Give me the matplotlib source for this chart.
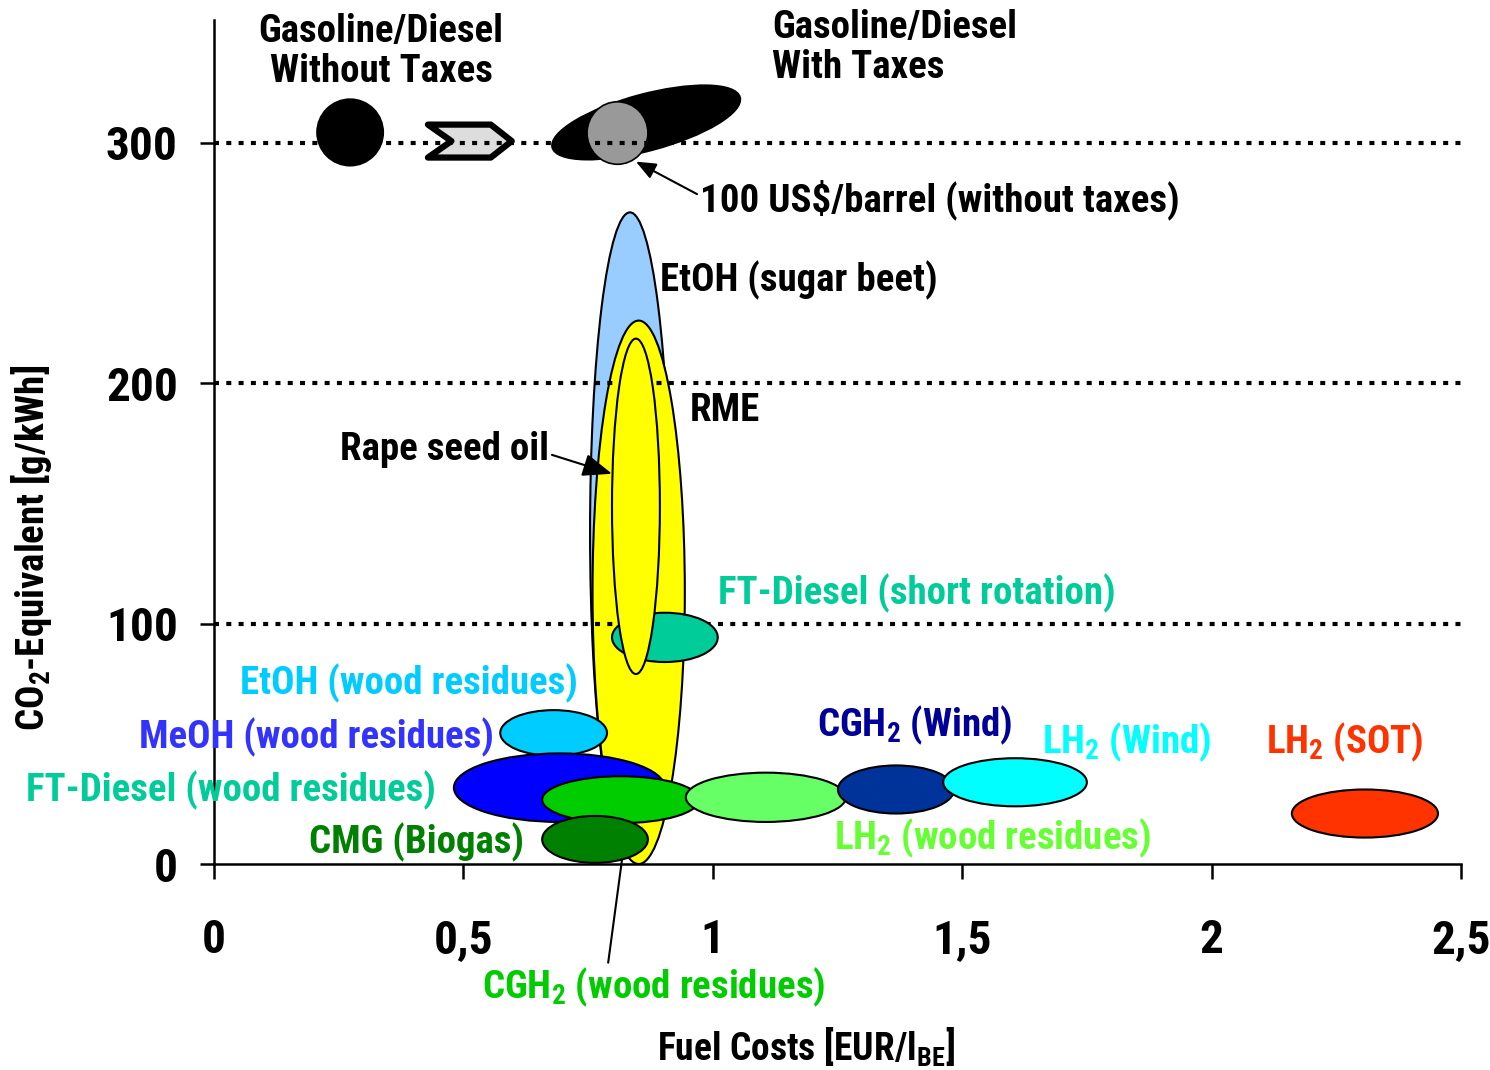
import matplotlib
matplotlib.use("Agg")
import matplotlib.pyplot as plt
from matplotlib import font_manager
from matplotlib.patches import Ellipse, Polygon
from matplotlib.transforms import ScaledTranslation
import numpy as np


def pick_family(candidates):
    for name in candidates:
        try:
            font_manager.findfont(font_manager.FontProperties(family=name, weight="bold"),
                                  fallback_to_default=False)
            return name
        except Exception:
            continue
    return "DejaVu Sans"


FAMILY = pick_family(["Liberation Sans Narrow", "Roboto Condensed", "Open Sans Condensed",
                      "Liberation Sans"])
plt.rcParams["font.family"] = [FAMILY, "DejaVu Sans"]
plt.rcParams["font.weight"] = "bold"
plt.rcParams["mathtext.fontset"] = "custom"
plt.rcParams["mathtext.rm"] = FAMILY + ":bold"
plt.rcParams["mathtext.bf"] = FAMILY + ":bold"
plt.rcParams["mathtext.it"] = FAMILY + ":bold"
plt.rcParams["mathtext.default"] = "bf"

# ---- data: cost range [EUR/l BE] and CO2-equivalent range [g/kWh] ----
fuels = ["EtOH (sugar beet)", "RME", "FT-Diesel (short rotation)", "Rape seed oil",
         "EtOH (wood residues)", "MeOH (wood residues)", "CGH2 (wood residues)",
         "LH2 (wood residues)", "CGH2 (Wind)", "LH2 (Wind)", "CMG (Biogas)", "LH2 (SOT)"]
cost_low = [0.754, 0.759, 0.798, 0.798, 0.574, 0.481, 0.658, 0.946, 1.251, 1.462, 0.658, 2.161]
cost_high = [0.914, 0.944, 1.010, 0.894, 0.788, 0.904, 0.973, 1.267, 1.484, 1.750, 0.870, 2.454]
co2_low = [5.0, 0.0, 84.0, 79.0, 45.0, 17.5, 17.0, 17.5, 21.0, 24.0, 0.5, 11.0]
co2_high = [271.0, 226.0, 104.5, 218.5, 64.0, 46.0, 36.5, 38.0, 41.0, 44.0, 20.0, 31.0]

# fossil reference fuels
gasoline_notax_cost = [0.207, 0.339]
gasoline_notax_co2 = [290.5, 318.0]
gasoline_tax_cost = [0.678, 1.055]
gasoline_tax_co2 = [293.0, 323.8]
oil100_cost = [0.748, 0.870]
oil100_co2 = [291.0, 317.0]
tax_step_cost = [0.429, 0.597]
tax_step_co2 = [293.8, 307.5]

x_ticks = [0, 0.5, 1, 1.5, 2, 2.5]
x_tick_labels = ["0", "0,5", "1", "1,5", "2", "2,5"]
y_ticks = [0, 100, 200, 300]
y_tick_labels = ["0", "100", "200", "300"]
grid_levels = [100, 200, 300]

# ---- styles ----
fill_colors = ["#99CCFF", "#FFFF00", "#00CC99", "#FFFF00", "#00CCFF", "#0000FF", "#00CC00",
               "#66FF66", "#003399", "#00FFFF", "#008000", "#FF3300"]
layers = [1, 1, 3, 3, 3, 3, 3, 3, 3, 3, 3, 3]

fig = plt.figure(figsize=(14.9, 10.7), dpi=100)
ax = fig.add_axes([0.1436, 0.1925, 0.8369, 0.7888])
ax.set_xlim(0, 2.5)
ax.set_ylim(0, 351)

for i in range(len(fuels)):
    cx = (cost_low[i] + cost_high[i]) / 2
    cy = (co2_low[i] + co2_high[i]) / 2
    ax.add_patch(Ellipse((cx, cy), cost_high[i] - cost_low[i], co2_high[i] - co2_low[i],
                         facecolor=fill_colors[i], edgecolor="black", lw=1.5,
                         zorder=layers[i] + i * 0.01))

# gasoline / diesel without taxes
ax.add_patch(Ellipse((np.mean(gasoline_notax_cost), np.mean(gasoline_notax_co2)),
                     np.diff(gasoline_notax_cost)[0], np.diff(gasoline_notax_co2)[0],
                     facecolor="black", edgecolor="black", lw=1.5, zorder=1))

# tax step chevron
x0, x1 = tax_step_cost
y0, y1 = tax_step_co2
chev = np.array([(0, 1), (0.75, 1), (1, 0.5), (0.75, 0), (0, 0), (0.28, 0.5)])
ax.add_patch(Polygon(np.column_stack([x0 + chev[:, 0] * (x1 - x0), y0 + chev[:, 1] * (y1 - y0)]),
                     closed=True, facecolor="#DDDDDD", edgecolor="black", lw=4.5,
                     joinstyle="round", zorder=1))

# gasoline / diesel with taxes: tilted ellipse fitted to its bounding box in screen space
tilt = 15.0
p0 = ax.transData.transform((gasoline_tax_cost[0], gasoline_tax_co2[0]))
p1 = ax.transData.transform((gasoline_tax_cost[1], gasoline_tax_co2[1]))
W, H = abs(p1[0] - p0[0]) / 2, abs(p1[1] - p0[1]) / 2
c2, s2 = np.cos(np.radians(tilt)) ** 2, np.sin(np.radians(tilt)) ** 2
a = np.sqrt((W ** 2 * c2 - H ** 2 * s2) / (c2 - s2))
b = np.sqrt((H ** 2 * c2 - W ** 2 * s2) / (c2 - s2))
tr = fig.dpi_scale_trans + ScaledTranslation(np.mean(gasoline_tax_cost), np.mean(gasoline_tax_co2),
                                             ax.transData)
ax.add_patch(Ellipse((0, 0), 2 * a / fig.dpi, 2 * b / fig.dpi, angle=tilt, transform=tr,
                     facecolor="black", edgecolor="black", lw=1.5, zorder=1))

# crude oil at 100 US$/barrel
ax.add_patch(Ellipse((np.mean(oil100_cost), np.mean(oil100_co2)), np.diff(oil100_cost)[0],
                     np.diff(oil100_co2)[0], facecolor="#999999", edgecolor="black", lw=1.2,
                     zorder=1.5))

for lvl in grid_levels:
    ax.axhline(lvl, color="black", lw=3.0, dashes=(1.2, 1.75), zorder=2)

# ---- axes ----
for side in ["top", "right"]:
    ax.spines[side].set_visible(False)
for side in ["left", "bottom"]:
    ax.spines[side].set_linewidth(1.8)
ax.set_xticks(x_ticks)
ax.set_xticklabels(x_tick_labels)
ax.set_yticks(y_ticks)
ax.set_yticklabels(y_tick_labels)
ax.tick_params(axis="x", direction="out", length=11, width=1.8, pad=28, labelsize=34)
ax.tick_params(axis="y", direction="out", length=10, width=1.8, pad=16, labelsize=34)
for lab in ax.get_xticklabels() + ax.get_yticklabels():
    lab.set_fontweight("bold")

ax.set_xlabel("Fuel Costs [EUR/l$_{BE}$]", fontsize=27, fontweight="bold", va="center")
ax.xaxis.set_label_coords(0.4748, -0.2168)
ax.set_ylabel("CO$_2$-Equivalent [g/kWh]", fontsize=28, fontweight="bold", va="center")
ax.yaxis.set_label_coords(-0.146, 0.3744)

# ---- labels ----
LS = 28
ax.text(0.335, 338.0, "Gasoline/Diesel\nWithout Taxes", ha="center", va="center",
        fontsize=LS, fontweight="bold", linespacing=1.12)
ax.text(1.119, 339.5, "Gasoline/Diesel\nWith Taxes", ha="left", va="center",
        fontsize=LS, fontweight="bold", linespacing=1.12)
ax.annotate("100 US$/barrel (without taxes)", xy=(0.846, 292.1), xytext=(0.974, 276.3),
            ha="left", va="center", fontsize=LS, fontweight="bold",
            arrowprops=dict(arrowstyle="-|>,head_length=0.6,head_width=0.25", color="black",
                            lw=1.5, mutation_scale=20, shrinkA=0, shrinkB=0, relpos=(0, 0.6)))
ax.text(0.894, 242.6, "EtOH (sugar beet)", ha="left", va="center", fontsize=LS, fontweight="bold")
ax.text(0.954, 188.5, "RME", ha="left", va="center", fontsize=LS, fontweight="bold")
ax.annotate("Rape seed oil", xy=(0.798, 162.3), xytext=(0.253, 172.3),
            ha="left", va="center", fontsize=LS, fontweight="bold", zorder=4,
            arrowprops=dict(arrowstyle="-|>,head_length=0.9,head_width=0.35", color="black",
                            lw=1.5, mutation_scale=20, shrinkA=0, shrinkB=0, relpos=(0.98, 0.42)))

ax.text(1.010, 112.4, "FT-Diesel (short rotation)", ha="left", va="center", fontsize=LS,
        fontweight="bold", color="#00CC99")
ax.text(0.730, 75.3, "EtOH (wood residues)", ha="right", va="center", fontsize=LS,
        fontweight="bold", color="#00CCFF")
ax.text(0.561, 52.9, "MeOH (wood residues)", ha="right", va="center", fontsize=LS,
        fontweight="bold", color="#3333FF", zorder=4)
ax.text(0.445, 30.8, "FT-Diesel (wood residues)", ha="right", va="center", fontsize=LS,
        fontweight="bold", color="#00CC99", zorder=4)
ax.text(0.621, 9.2, "CMG (Biogas)", ha="right", va="center", fontsize=LS,
        fontweight="bold", color="#008000")
ax.annotate("CGH$_2$ (wood residues)", xy=(0.818, 1.7), xytext=(0.537, -51.2),
            ha="left", va="center", fontsize=LS, fontweight="bold", color="#00CC00",
            annotation_clip=False,
            arrowprops=dict(arrowstyle="-", color="black", lw=1.5, shrinkA=0, shrinkB=0,
                            relpos=(0.367, 1.0)))
ax.text(1.209, 57.8, "CGH$_2$ (Wind)", ha="left", va="center", fontsize=LS,
        fontweight="bold", color="#000099")
ax.text(1.660, 50.8, "LH$_2$ (Wind)", ha="left", va="center", fontsize=LS,
        fontweight="bold", color="#00FFFF")
ax.text(2.109, 50.8, "LH$_2$ (SOT)", ha="left", va="center", fontsize=LS,
        fontweight="bold", color="#FF3300")
ax.text(1.243, 10.8, "LH$_2$ (wood residues)", ha="left", va="center", fontsize=LS,
        fontweight="bold", color="#66FF33")

fig.savefig("out.png", dpi=100)
